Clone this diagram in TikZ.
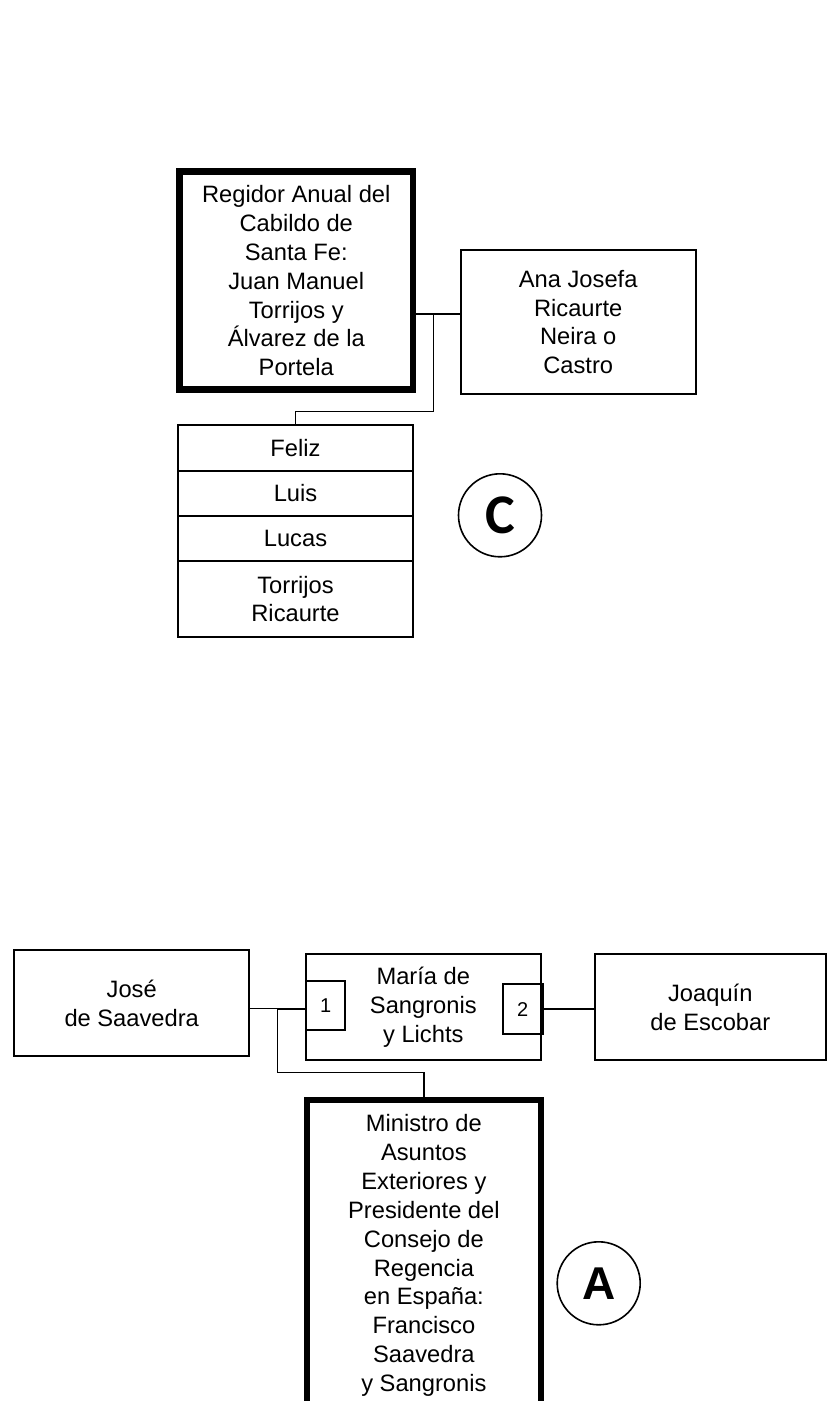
\documentclass[tikz,border=0pt]{standalone}
\usepackage{fontspec}
\setmainfont{Liberation Sans}
\newfontfamily\carlito{Carlito}
\begin{document}
\begin{tikzpicture}[x=1pt,y=-1pt,
  box/.style={draw=black,line width=2pt,rectangle,inner sep=0pt,align=center,
    font=\fontsize{23.7}{28.9}\selectfont},
  thickbox/.style={box,line width=6.5pt},
  numbox/.style={draw=black,line width=2pt,rectangle,inner sep=0pt,
    font=\fontsize{20}{23}\selectfont},
  badge/.style={draw=black,line width=1.6pt,circle,inner sep=0pt,minimum size=83pt},
  thinline/.style={line width=1.2pt},
  thickline/.style={line width=2.2pt}]
\clip (0,0) rectangle (828,1401);
\fill[white] (0,0) rectangle (828,1401);

% ---- upper family (C)
\node[thickbox,minimum width=233.5pt,minimum height=218pt] (regidor) at (296.25,280.7)
  {Regidor Anual del\\Cabildo de\\Santa Fe:\\Juan Manuel\\Torrijos y\\Álvarez de la\\Portela};
\node[box,minimum width=235pt,minimum height=144pt] (ana) at (578.2,322)
  {Ana Josefa\\Ricaurte\\Neira o\\Castro};
\node[box,minimum width=235pt,minimum height=45.7pt] (feliz) at (295.5,448) {Feliz};
\node[box,minimum width=235pt,minimum height=45.3pt] (luis) at (295.5,493.4) {Luis};
\node[box,minimum width=235pt,minimum height=45pt] (lucas) at (295.5,538.5) {Lucas};
\node[box,minimum width=235pt,minimum height=76pt] (torrijos) at (295.5,599) {Torrijos\\Ricaurte};
\node[badge,font=\carlito\bfseries\fontsize{56}{60}\selectfont] (cC) at (500,515.3) {C};

\coordinate (j1) at (433.3,314);
\coordinate (j1b) at (433.3,411.7);
\coordinate (j1c) at (295.5,411.7);
\draw[thinline] (regidor.east |- j1) -- (j1);
\draw[thickline] (j1) -- (ana.west |- j1);
\draw[thinline] (j1) -- (j1b) -- (j1c) -- (feliz.north);

% ---- lower family (A)
\node[box,minimum width=235.3pt,minimum height=106pt] (jose) at (131.7,1003)
  {José\\de Saavedra};
\node[box,minimum width=234.7pt,minimum height=106pt] (maria) at (423.3,1007)
  {María de\\Sangronis\\y Lichts};
\node[numbox,minimum width=39.3pt,minimum height=49.3pt] (one) at (325.7,1005.3) {1};
\node[numbox,minimum width=40pt,minimum height=50pt] (two) at (522.7,1009.3) {2};
\node[box,minimum width=231.3pt,minimum height=106pt] (joaquin) at (710.3,1007)
  {Joaquín\\de Escobar};
\node[thickbox,line width=6pt,minimum width=233.8pt,minimum height=312pt] (ministro) at (423.9,1255.5)
  {Ministro de\\Asuntos\\Exteriores y\\Presidente del\\Consejo de\\Regencia\\en España:\\Francisco\\Saavedra\\y Sangronis};
\node[badge,font=\bfseries\fontsize{46}{50}\selectfont] (cA) at (598.7,1283.3) {A};

\coordinate (j2) at (277.3,1008.7);
\coordinate (j2b) at (277.3,1072.7);
\coordinate (j2c) at (423.9,1072.7);
\draw[thinline] (jose.east |- j2) -- (j2);
\draw[thickline] (j2) -- (one.west |- j2);
\draw[thinline] (j2) -- (j2b) -- (j2c) -- (ministro.north);
\draw[thickline] (two.east) -- (two.east -| joaquin.west);
\end{tikzpicture}
\end{document}
